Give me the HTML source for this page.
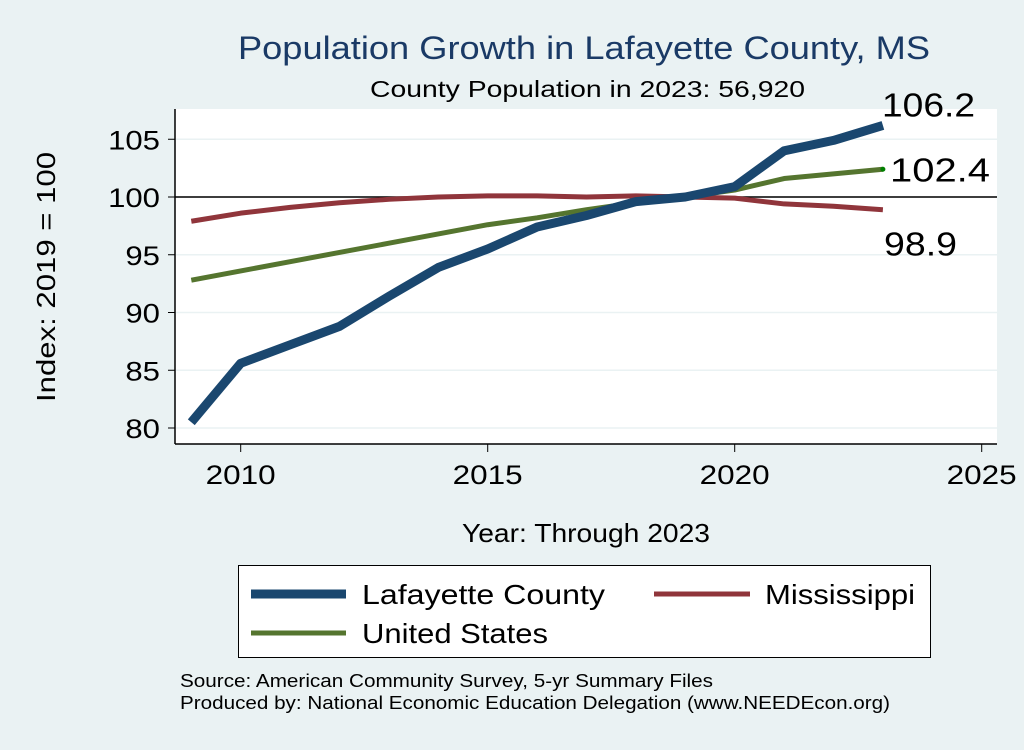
<!DOCTYPE html>
<html><head><meta charset="utf-8"><style>
html,body{margin:0;padding:0;background:#eaf2f3;}
svg text{font-family:"Liberation Sans",Arial,sans-serif;}
</style></head><body>
<svg width="1024" height="745" viewBox="0 0 1024 745" xmlns="http://www.w3.org/2000/svg">
<rect x="0" y="0" width="1024" height="745" fill="#eaf2f3"/>
<text x="238" y="59" textLength="692" lengthAdjust="spacingAndGlyphs" font-size="32" fill="#1a3a66">Population Growth in Lafayette County, MS</text>
<text x="370" y="97" textLength="435" lengthAdjust="spacingAndGlyphs" font-size="23" fill="#000">County Population in 2023: 56,920</text>
<rect x="175" y="109" width="822" height="335" fill="#fff"/>
<g id="grid"></g>
<g id="marks"></g>
<g id="axes"></g>
<text transform="translate(55,402) rotate(-90)" textLength="250" lengthAdjust="spacingAndGlyphs" font-size="26">Index: 2019 = 100</text>
<text x="462" y="542" textLength="248" lengthAdjust="spacingAndGlyphs" font-size="26">Year: Through 2023</text>
<g>
<rect x="238.5" y="565.5" width="692" height="92" fill="#fff" stroke="#000" stroke-width="1"/>
<line x1="251" y1="594" x2="346" y2="594" stroke="#1a476f" stroke-width="9"/>
<text x="362" y="604" textLength="243" lengthAdjust="spacingAndGlyphs" font-size="28">Lafayette  County</text>
<line x1="654" y1="594" x2="750" y2="594" stroke="#90353b" stroke-width="5"/>
<text x="765" y="604" textLength="150" lengthAdjust="spacingAndGlyphs" font-size="28">Mississippi</text>
<line x1="251" y1="633" x2="346" y2="633" stroke="#55752f" stroke-width="5"/>
<text x="362" y="643" textLength="186" lengthAdjust="spacingAndGlyphs" font-size="28">United States</text>
</g>
<text x="180" y="687" textLength="533" lengthAdjust="spacingAndGlyphs" font-size="18">Source: American Community Survey, 5-yr Summary Files</text>
<text x="180" y="709" textLength="710" lengthAdjust="spacingAndGlyphs" font-size="18">Produced by: National Economic Education Delegation (www.NEEDEcon.org)</text>
</svg>
<script>
const years=[2009,2010,2011,2012,2013,2014,2015,2016,2017,2018,2019,2020,2021,2022,2023];
const lafayette=[80.5,85.6,87.2,88.8,91.4,93.9,95.5,97.4,98.4,99.6,100,100.9,104.0,104.9,106.2];
const mississippi=[97.9,98.6,99.1,99.5,99.8,100.0,100.1,100.1,100.0,100.1,100,99.9,99.4,99.2,98.9];
const unitedStates=[92.8,93.6,94.4,95.2,96.0,96.8,97.6,98.2,98.9,99.5,100,100.6,101.6,102.0,102.4];
const yTicks=[80,85,90,95,100,105];
const xTicks=[2010,2015,2020,2025];
const endLabels=["106.2","102.4","98.9"];
const NS="http://www.w3.org/2000/svg";
function xs(v){return 240.7+(v-2010)*49.4;}
function ys(v){return 197-(v-100)*11.55;}
function mk(tag,attrs,parent){const e=document.createElementNS(NS,tag);for(const k in attrs)e.setAttribute(k,attrs[k]);parent.appendChild(e);return e;}
const grid=document.getElementById('grid'),marks=document.getElementById('marks'),axes=document.getElementById('axes');
yTicks.forEach(t=>{
 const g=mk('line',{x1:176,x2:997,y1:ys(t),y2:ys(t),stroke:'#eaf2f3','stroke-width':1.5},grid);
 
 
 const tk=mk('line',{x1:168,x2:175,y1:ys(t),y2:ys(t),stroke:'#000','stroke-width':1},axes);
 
 
 const s=String(t);
 const tx=mk('text',{x:160,y:ys(t)+10,'text-anchor':'end','font-size':27,textLength:s.length*17.3,lengthAdjust:'spacingAndGlyphs'},axes);tx.textContent=s;
 
 
});
const ref=mk('line',{x1:175,x2:997,y1:ys(100),y2:ys(100),stroke:'#000','stroke-width':1.5},grid);


function series(vals,color,w,name){
 const p=mk('polyline',{points:vals.map((v,i)=>xs(years[i])+','+ys(v)).join(' '),fill:'none',stroke:color,'stroke-width':w,'stroke-linejoin':'round'},marks);
 
 
}
series(mississippi,'#90353b',5,'line-mississippi');
series(unitedStates,'#55752f',5,'line-united-states');
series(lafayette,'#1a476f',9,'line-lafayette');
const dot=mk('circle',{cx:xs(2023),cy:ys(unitedStates[14]),r:2.5,fill:'#008000'},marks);


const lp=[[lafayette,882,-9,93],[unitedStates,890,12,100],[mississippi,884,46,73]];
lp.forEach((l,i)=>{
 const t=mk('text',{x:l[1],y:ys(l[0][14])+l[2],'font-size':33,textLength:l[3],lengthAdjust:'spacingAndGlyphs'},marks);t.textContent=endLabels[i];
 
 
});
mk('line',{x1:175,x2:175,y1:109,y2:444,stroke:'#000','stroke-width':1.5},axes);
mk('line',{x1:175,x2:997,y1:444,y2:444,stroke:'#000','stroke-width':1.5},axes);
xTicks.forEach(t=>{
 const tk=mk('line',{x1:xs(t),x2:xs(t),y1:444,y2:452,stroke:'#000','stroke-width':1},axes);
 
 
 const tx=mk('text',{x:xs(t)-35,y:484,'font-size':27,textLength:70,lengthAdjust:'spacingAndGlyphs'},axes);tx.textContent=t;
 
 
});
</script>
</body></html>
